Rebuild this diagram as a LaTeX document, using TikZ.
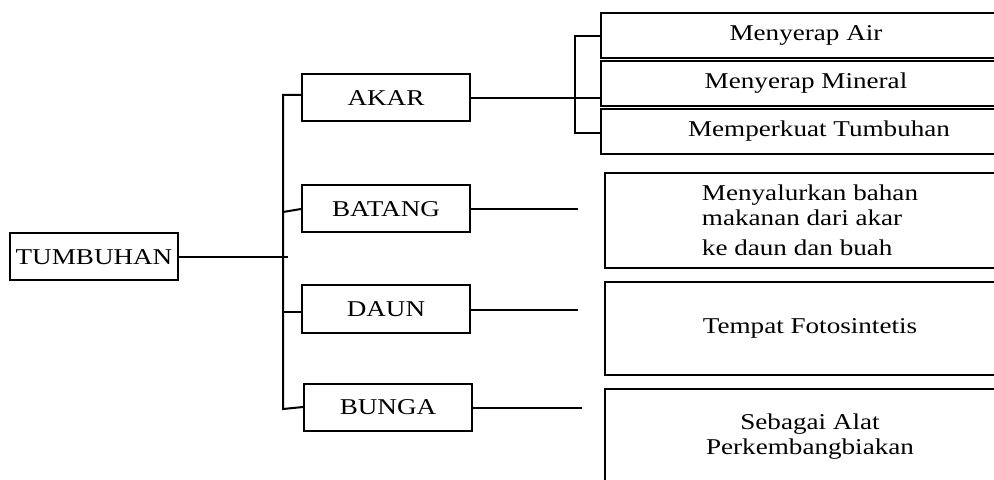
\documentclass[tikz,border=0pt]{standalone}
\usepackage{fontspec}
\setmainfont{Liberation Serif}[FakeStretch=1.2]
\usetikzlibrary{positioning}

\tikzset{
  organ/.style={draw, minimum width=84pt, minimum height=23.5pt, inner sep=0pt,
    font=\fontsize{11.3}{13}\selectfont},
  fungsi/.style={draw, anchor=north west, minimum width=205pt, inner sep=0pt,
    font=\fontsize{11.3}{12.5}\selectfont}
}

\begin{document}
\begin{tikzpicture}[x=0.5pt, y=-0.5pt, line width=1pt]

    \useasboundingbox (0,0) rectangle (994,480);
    \clip (0,0) rectangle (994,480);

    % organs
    \node[organ] (tumbuhan) at (94,257) {TUMBUHAN};
    \node[organ] (akar) at (386,98) {AKAR};
    \node[organ] (batang) at (386,209) {BATANG};
    \node[organ] (daun) at (386,309) {DAUN};
    \node[organ] (bunga) at (388,407) {BUNGA};

    % functions
    \node[fungsi, minimum height=22.5pt] (air) at (600,12) {Menyerap Air};
    \node[fungsi, minimum height=22.5pt] (mineral) at (600,60) {Menyerap Mineral};
    \node[fungsi, minimum height=22.5pt] (kuat) at (600,108) {\hspace{13pt}Memperkuat Tumbuhan};
    \node[fungsi, minimum height=47.5pt, align=left] (salur) at (604,172)
        {Menyalurkan bahan\\makanan dari akar\\[2.5pt]ke daun dan buah};
    \node[fungsi, minimum height=46.5pt] (tempat) at (604,281) {Tempat Fotosintetis};
    \node[fungsi, minimum height=48pt, align=center] (sebagai) at (604,388)
        {Sebagai Alat\\Perkembangbiakan};

    % trunk
    \coordinate (hub) at (288,257);
    \coordinate (tA) at (283,95);
    \coordinate (tB) at (283,212);
    \coordinate (tD) at (283,312);
    \coordinate (tU) at (283,409);
    \draw (tumbuhan.east) -- (hub);
    \draw (akar.west |- tA) -- (tA) -- (tU) -- (bunga.west);
    \draw (tB) -- (batang.west);
    \draw (tD) -- (daun.west |- tD);

    % akar branches
    \coordinate (rA) at (575,36);
    \coordinate (rK) at (575,133);
    \draw (air.west |- rA) -- (rA) -- (rK) -- (kuat.west |- rK);
    \draw (akar.east) -- (mineral.west |- akar.east);

    % free ends
    \coordinate (eB) at (578,209);
    \coordinate (eD) at (578,310);
    \coordinate (eU) at (582,408);
    \draw (batang.east) -- (eB);
    \draw (daun.east |- eD) -- (eD);
    \draw (bunga.east |- eU) -- (eU);

\end{tikzpicture}
\end{document}
